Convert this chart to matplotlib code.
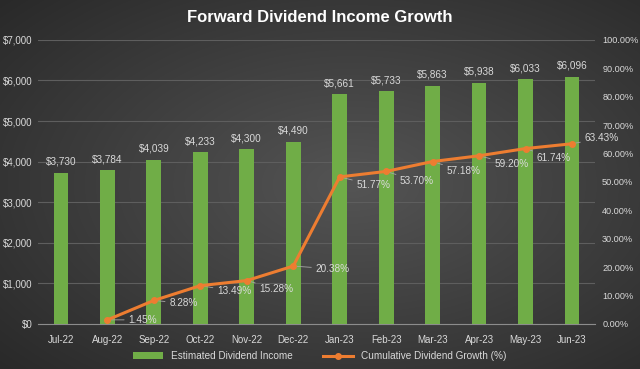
import numpy as np
import matplotlib.pyplot as plt
from matplotlib.ticker import FuncFormatter

plt.rcParams['font.family'] = ['Liberation Sans', 'DejaVu Sans']

months = ['Jul-22', 'Aug-22', 'Sep-22', 'Oct-22', 'Nov-22', 'Dec-22',
          'Jan-23', 'Feb-23', 'Mar-23', 'Apr-23', 'May-23', 'Jun-23']
income = [3730, 3784, 4039, 4233, 4300, 4490, 5661, 5733, 5863, 5938, 6033, 6096]
growth = [np.nan, 1.45, 8.28, 13.49, 15.28, 20.38, 51.77, 53.70, 57.18, 59.20, 61.74, 63.43]

GREEN = '#70AD47'
ORANGE = '#ED7D31'
TXT = '#d9d9d9'

fig = plt.figure(figsize=(6.4, 3.69), dpi=100)

# radial gradient background
bg = fig.add_axes([0, 0, 1, 1], zorder=-10)
yy, xx = np.mgrid[0:1:369j, 0:1:640j]
r = np.sqrt(((xx - 0.55) / 0.75) ** 2 + ((yy - 0.5) / 0.75) ** 2)
shade = np.clip(0.33 - 0.17 * r, 0.14, 0.33)
bg.imshow(np.dstack([shade] * 3), aspect='auto', extent=[0, 1, 0, 1])
bg.axis('off')

ax = fig.add_axes([0.059, 0.122, 0.871, 0.77])
ax.patch.set_alpha(0)
x = np.arange(len(months))
ax.bar(x, income, width=0.32, color=GREEN, zorder=3, label='Estimated Dividend Income')
for xi, v in zip(x, income):
    ax.text(xi, v + 150, '${:,}'.format(v), ha='center', va='bottom', color=TXT, fontsize=7.2)

ax.set_ylim(0, 7000)
ax.set_xlim(-0.5, len(months) - 0.5)
ax.set_yticks(range(0, 7001, 1000))
ax.yaxis.set_major_formatter(FuncFormatter(lambda v, p: '${:,.0f}'.format(v)))
ax.set_xticks(x)
ax.set_xticklabels(months)
ax.grid(axis='y', color='#5e5e5e', linewidth=0.8, zorder=0)
ax.tick_params(colors=TXT, labelsize=7, length=0)
ax.tick_params(axis='x', pad=8)
for s in ['top', 'right', 'left']:
    ax.spines[s].set_visible(False)
ax.spines['bottom'].set_color('#8c8c8c')

ax2 = ax.twinx()
ax2.plot(x, growth, color=ORANGE, linewidth=2.2, marker='o', markersize=4, zorder=4,
         label='Cumulative Dividend Growth (%)')
ax2.set_ylim(0, 100)
ax2.set_yticks(range(0, 101, 10))
ax2.yaxis.set_major_formatter(FuncFormatter(lambda v, p: '{:.2f}%'.format(v)))
ax2.tick_params(colors=TXT, labelsize=6.6, length=0, pad=5)
for s in ax2.spines.values():
    s.set_visible(False)

offsets = [None, (15, 0), (11, -2), (12, -4), (9, -6), (16, -2),
           (12, -6), (10, -7), (10, -7), (11, -6), (8, -7), (9, 4)]
for xi, g, off in zip(x, growth, offsets):
    if np.isnan(g):
        continue
    ax2.annotate('{:.2f}%'.format(g), xy=(xi, g), xytext=off, textcoords='offset points',
                 ha='left', va='center', color=TXT, fontsize=7.2,
                 arrowprops=dict(arrowstyle='-', color='#a6a6a6', linewidth=0.6,
                                 shrinkA=1, shrinkB=2))

fig.text(0.5, 0.953, 'Forward Dividend Income Growth', ha='center', va='center',
         color='white', fontsize=12, fontweight='bold')

h1, l1 = ax.get_legend_handles_labels()
h2, l2 = ax2.get_legend_handles_labels()
fig.legend(h1 + h2, l1 + l2, loc='center', bbox_to_anchor=(0.5, 0.035), ncol=2,
           frameon=False, fontsize=7.2, labelcolor=TXT, handlelength=3, columnspacing=3)

fig.savefig('out.png', dpi=100)
